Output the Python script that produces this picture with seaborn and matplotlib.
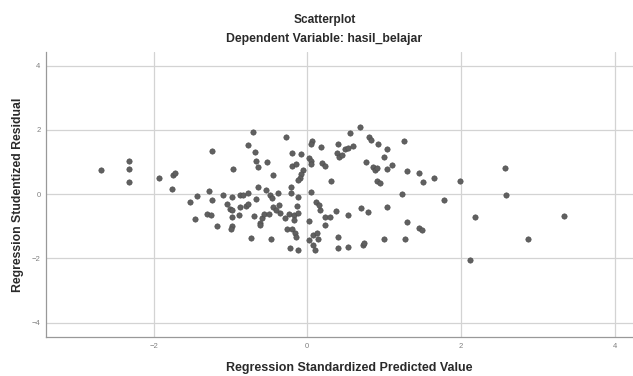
import pandas as pd
import matplotlib
matplotlib.use("Agg")
import matplotlib.pyplot as plt
import seaborn as sns

# standardized predicted value (x) vs studentized residual (y)
pred = [-2.686, -2.318, -2.326, -2.326, -1.927, -1.745, -1.723, -1.766, -1.237, -0.967,
        -0.707, -0.768, -0.681, -0.672, -0.646, -0.521, -0.443, -1.527, -1.440, -1.276,
        -1.237, -1.102, -0.984, -0.876, -0.833, -0.768, -0.672, -0.646, -0.542, -0.486,
        -0.456, -0.385, -1.042, -1.007, -0.876, -0.798, -0.768, -0.977, -0.984, -1.310,
        -1.258, -1.458, -1.180, -0.977, -0.997, -0.885, -0.698, -0.594, -0.616, -0.616,
        -0.564, -0.495, -0.443, -0.368, -0.355, -0.411, -0.737, -0.477, -0.277, -0.199,
        -0.082, -0.195, -0.141, -0.060, -0.076, -0.095, -0.117, 0.061, 0.048, 0.178,
        0.026, 0.044, 0.048, 0.198, 0.237, 0.309, -0.212, -0.212, 0.048, -0.125,
        0.113, -0.138, -0.290, -0.234, -0.167, -0.117, -0.173, 0.165, 0.152, 0.230,
        0.296, 0.230, 0.374, 0.026, -0.260, -0.193, -0.154, -0.141, -0.225, -0.125,
        0.026, 0.074, 0.122, 0.135, 0.078, 0.100, 0.400, 0.400, 0.404, 0.383,
        0.417, 0.448, 0.491, 0.534, 0.591, 0.556, 0.686, 0.807, 0.826, 0.917,
        1.034, 0.999, 0.764, 0.852, 0.882, 0.904, 1.042, 1.103, 0.911, 0.947,
        1.263, 1.298, 1.458, 1.503, 1.650, 1.988, 2.578, 2.583, 3.346, 2.180,
        2.870, 2.122, 1.784, 1.229, 1.042, 0.699, 0.794, 0.534, 1.294, 1.458,
        1.497, 0.999, 1.276, 0.721, 0.742, 0.534]
resid = [0.745, 1.034, 0.776, 0.389, 0.514, 0.589, 0.670, 0.162, 1.346, 0.776,
         1.938, 1.523, 1.305, 1.044, 0.857, 1.003, 0.598, -0.243, -0.056, 0.100,
         -0.181, -0.016, -0.097, -0.025, -0.025, 0.047, -0.159, 0.215, 0.131, -0.034,
         -0.128, 0.047, -0.315, -0.461, -0.389, -0.358, -0.315, -0.701, -0.492, -0.626,
         -0.657, -0.782, -0.981, -0.991, -1.084, -0.657, -0.670, -0.751, -0.888, -0.960,
         -0.617, -0.626, -0.389, -0.336, -0.595, -0.492, -1.374, -1.396, 1.773, 1.283,
         1.243, 0.863, 0.935, 0.754, 0.614, 0.489, 0.442, 1.657, 1.564, 1.470,
         1.128, 1.034, 0.931, 0.981, 0.879, 0.396, 0.209, 0.028, 0.053, -0.103,
         -0.252, -0.361, -0.751, -0.617, -0.664, -0.595, -0.804, -0.492, -0.336, -0.720,
         -0.726, -0.960, -0.530, -0.844, -1.100, -1.075, -1.209, -1.349, -1.667, -1.738,
         -1.427, -1.271, -1.209, -1.396, -1.583, -1.729, -1.324, -1.685, 1.555, 1.293,
         1.168, 1.221, 1.399, 1.430, 1.502, 1.916, 2.103, 1.791, 1.688, 1.564,
         1.399, 1.168, 1.012, 0.838, 0.754, 0.807, 0.776, 0.910, 0.421, 0.358,
         1.657, 0.723, 0.651, 0.389, 0.514, 0.411, 0.807, -0.025, -0.670, -0.701,
         -1.396, -2.050, -0.190, 0.016, -0.389, -0.421, -0.564, -0.657, -0.875, -1.044,
         -1.115, -1.405, -1.386, -1.583, -1.530, -1.654]
x_ticks = [-2, 0, 2, 4]
y_ticks = [-4, -2, 0, 2, 4]

df = pd.DataFrame({"pred": pred, "resid": resid})

sns.set_style("white")
plt.rcParams["font.family"] = ["Liberation Sans", "DejaVu Sans"]

fig = plt.figure(figsize=(6.33, 3.76), dpi=100)
ax = fig.add_axes([0.0727, 0.1037, 0.9273, 0.758])

sns.scatterplot(data=df, x="pred", y="resid", ax=ax, s=15, color="#606060",
                edgecolor="#4a4a4a", linewidth=0.4, zorder=3)

ax.set_xlim(-3.40, 4.24)
ax.set_ylim(-4.45, 4.43)
ax.set_xticks(x_ticks)
ax.set_yticks(y_ticks)
ax.grid(True, color="#d3d3d3", linewidth=0.9)
ax.set_axisbelow(True)
ax.tick_params(length=0, labelsize=5.5, labelcolor="#808080", pad=4)
ax.set_xlabel("")
ax.set_ylabel("")
for side in ["top", "right"]:
    ax.spines[side].set_visible(False)
for side in ["left", "bottom"]:
    ax.spines[side].set_color("#999999")
    ax.spines[side].set_linewidth(0.9)

fig.text(325 / 633, 1 - 20 / 376, "Scatterplot", ha="center", va="center",
         fontsize=8.6, fontweight="bold", color="#2a2a2a")
fig.text(324 / 633, 1 - 39 / 376, "Dependent Variable: hasil_belajar", ha="center", va="center",
         fontsize=8.8, fontweight="bold", color="#2a2a2a")
fig.text(349 / 633, 1 - 368 / 376, "Regression Standardized Predicted Value", ha="center", va="center",
         fontsize=9.0, fontweight="bold", color="#2a2a2a")
fig.text(18 / 633, 1 - 195 / 376, "Regression Studentized Residual", ha="center", va="center",
         rotation=90, fontsize=8.8, fontweight="bold", color="#2a2a2a")

fig.savefig("out.png", dpi=100)
